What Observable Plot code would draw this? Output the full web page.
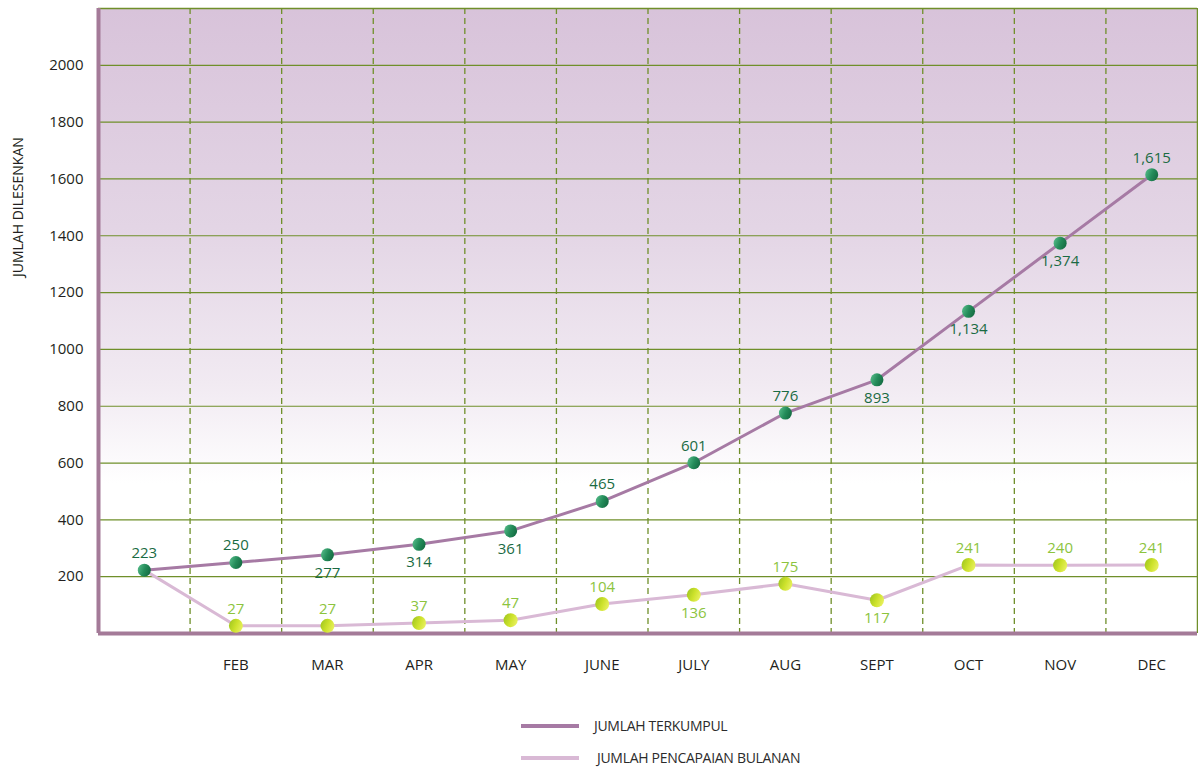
<!DOCTYPE html>
<html>
<head>
<meta charset="utf-8">
<script src="https://cdn.jsdelivr.net/npm/d3@7"></script>
<script src="https://cdn.jsdelivr.net/npm/@observablehq/plot@0.6"></script>
<style>
  html, body { margin: 0; padding: 0; background: #ffffff; }
  #wrap { position: relative; width: 1198px; height: 769px; font-family: "Open Sans", sans-serif; }
  .lg-line { position: absolute; width: 58px; height: 4px; }
  .lg-text { position: absolute; font-size: 14px; line-height: 18px; color: #2b2b2b; letter-spacing: -0.3px; white-space: nowrap; }
</style>
</head>
<body>
<div id="wrap"></div>
<script>
// ---- data ----
const months = ["JAN", "FEB", "MAR", "APR", "MAY", "JUNE", "JULY", "AUG", "SEPT", "OCT", "NOV", "DEC"];
const monthTickLabels = ["", "FEB", "MAR", "APR", "MAY", "JUNE", "JULY", "AUG", "SEPT", "OCT", "NOV", "DEC"];
const jumlahTerkumpul = [223, 250, 277, 314, 361, 465, 601, 776, 893, 1134, 1374, 1615];
const jumlahBulanan = [223, 27, 27, 37, 47, 104, 136, 175, 117, 241, 240, 241];
const terkumpulLabelSide = ["up", "up", "down", "down", "down", "up", "up", "up", "down", "down", "down", "up"];
const bulananLabelSide = ["none", "up", "up", "up", "up", "up", "down", "up", "down", "up", "up", "up"];
const yTicks = [200, 400, 600, 800, 1000, 1200, 1400, 1600, 1800, 2000];
const yMax = 2200;

const seriesNames = ["JUMLAH TERKUMPUL", "JUMLAH PENCAPAIAN BULANAN"];

// ---- table ----
const rows = months.map((m, i) => ({
  i, month: m,
  t: jumlahTerkumpul[i], b: jumlahBulanan[i],
  tSide: terkumpulLabelSide[i], bSide: bulananLabelSide[i]
}));
const boundaries = d3.range(1, months.length).map(k => k - 0.5);

const fmt = d3.format(",");
const cUpper = "#a67aa4";
const cLower = "#d9b9d5";
const cGrid = "#6f8f2a";
const cAxis = "#a47a98";
const cUpperText = "#1a6b43";
const cLowerText = "#8cc43e";

function defs() {
  const svg = d3.create("svg:defs");
  const bg = svg.append("linearGradient").attr("id", "bgGrad")
    .attr("x1", 0).attr("y1", 0).attr("x2", 0).attr("y2", 1);
  bg.append("stop").attr("offset", "0%").attr("stop-color", "#d8c3da");
  bg.append("stop").attr("offset", "35%").attr("stop-color", "#e3d5e5");
  bg.append("stop").attr("offset", "60%").attr("stop-color", "#f1eaf2");
  bg.append("stop").attr("offset", "76%").attr("stop-color", "#ffffff");
  bg.append("stop").attr("offset", "100%").attr("stop-color", "#ffffff");
  const g = svg.append("linearGradient").attr("id", "dotGreen")
    .attr("x1", 0).attr("y1", 0.3).attr("x2", 1).attr("y2", 0.7);
  g.append("stop").attr("offset", "0%").attr("stop-color", "#52b886");
  g.append("stop").attr("offset", "50%").attr("stop-color", "#248c5a");
  g.append("stop").attr("offset", "100%").attr("stop-color", "#146a41");
  const y = svg.append("linearGradient").attr("id", "dotYellow")
    .attr("x1", 0).attr("y1", 0.3).attr("x2", 1).attr("y2", 0.7);
  y.append("stop").attr("offset", "0%").attr("stop-color", "#a3c820");
  y.append("stop").attr("offset", "50%").attr("stop-color", "#cde22c");
  y.append("stop").attr("offset", "100%").attr("stop-color", "#eaf163");
  return svg.node();
}

const chart = Plot.plot({
  width: 1198,
  height: 700,
  marginLeft: 98,
  marginRight: 1,
  marginTop: 8,
  marginBottom: 67,
  style: { fontFamily: "'Open Sans', sans-serif", fontSize: "15px", color: "#231f20", background: "transparent" },
  x: { type: "linear", domain: [-0.5, months.length - 0.5] },
  y: { domain: [0, yMax] },
  marks: [
    defs,
    Plot.frame({ fill: "url(#bgGrad)", stroke: "none" }),
    Plot.ruleY(yTicks, { stroke: cGrid, strokeWidth: 1.2 }),
    Plot.ruleY([yMax], { stroke: cGrid, strokeWidth: 1.5 }),
    Plot.ruleX(boundaries, { stroke: cGrid, strokeWidth: 1.3, strokeDasharray: "6,4" }),
    Plot.ruleX([months.length - 0.5], { stroke: cGrid, strokeWidth: 1.5 }),
    Plot.ruleX([-0.5], { stroke: cAxis, strokeWidth: 4 }),
    Plot.ruleY([0], { stroke: cAxis, strokeWidth: 4, x1: -0.5, x2: months.length - 0.5 }),
    Plot.line(rows, { x: "i", y: "b", stroke: cLower, strokeWidth: 3 }),
    Plot.line(rows, { x: "i", y: "t", stroke: cUpper, strokeWidth: 3 }),
    Plot.dot(rows.filter(d => d.bSide !== "none"), { x: "i", y: "b", r: 7, fill: "url(#dotYellow)", stroke: "none" }),
    Plot.dot(rows, { x: "i", y: "t", r: 6.5, fill: "url(#dotGreen)", stroke: "none" }),
    Plot.text(rows.filter(d => d.tSide === "up"), { x: "i", y: "t", text: d => fmt(d.t), dy: -17, fill: cUpperText, fontSize: 15 }),
    Plot.text(rows.filter(d => d.tSide === "down"), { x: "i", y: "t", text: d => fmt(d.t), dy: 18, fill: cUpperText, fontSize: 15 }),
    Plot.text(rows.filter(d => d.bSide === "up"), { x: "i", y: "b", text: d => fmt(d.b), dy: -17, fill: cLowerText, fontSize: 15 }),
    Plot.text(rows.filter(d => d.bSide === "down"), { x: "i", y: "b", text: d => fmt(d.b), dy: 18, fill: cLowerText, fontSize: 15 }),
    Plot.axisY(yTicks, { tickSize: 0, tickPadding: 15, fontSize: 15, label: null, tickFormat: d => String(d) }),
    Plot.axisX(d3.range(months.length), { tickSize: 0, tickPadding: 26, fontSize: 15, label: null, tickFormat: i => monthTickLabels[i] }),
    Plot.text(["JUMLAH DILESENKAN"], { frameAnchor: "left", rotate: -90, dx: -80, dy: -44, fontSize: 14, fill: "#231f20" })
  ]
});

const wrap = document.getElementById("wrap");
wrap.appendChild(chart);

const legendItems = [
  { name: seriesNames[0], color: cUpper, lineTop: 724, textLeft: 594 },
  { name: seriesNames[1], color: cLower, lineTop: 756, textLeft: 597 }
];
legendItems.forEach(it => {
  const l = document.createElement("div");
  l.className = "lg-line";
  l.style.left = "521px";
  l.style.top = it.lineTop + "px";
  l.style.background = it.color;
  wrap.appendChild(l);
  const t = document.createElement("div");
  t.className = "lg-text";
  t.style.left = it.textLeft + "px";
  t.style.top = (it.lineTop - 7) + "px";
  t.textContent = it.name;
  wrap.appendChild(t);
});
const svgEl = wrap.querySelector("svg");
svgEl.style.position = "absolute";
svgEl.style.left = "0";
svgEl.style.top = "0";
</script>
</body>
</html>
